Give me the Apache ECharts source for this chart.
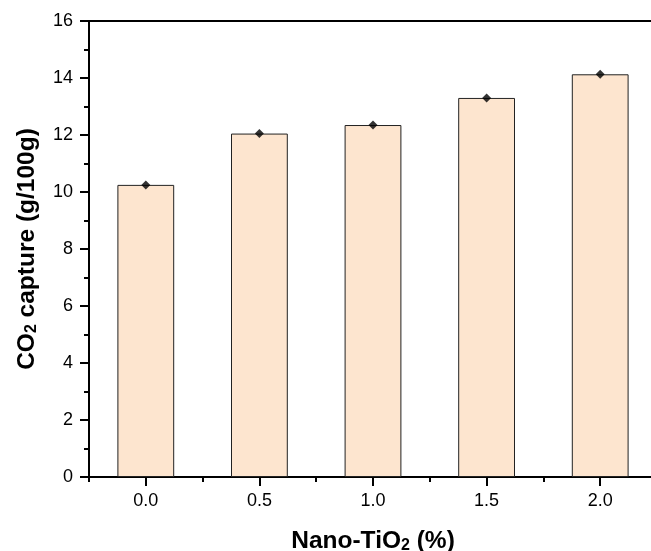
<!DOCTYPE html>
<html>
<head>
<meta charset="utf-8">
<script src="https://cdn.jsdelivr.net/npm/echarts@6/dist/echarts.min.js"></script>
<style>html,body{margin:0;padding:0;background:#fff;}#c{width:651px;height:551px;}</style>
</head>
<body>
<div id="c"></div>
<script>
const categories = ['0.0', '0.5', '1.0', '1.5', '2.0'];
const capture = [10.25, 12.05, 12.35, 13.30, 14.13];
const yTicks = { min: 0, max: 16, interval: 2 };

const chart = echarts.init(document.getElementById('c'), null, { renderer: 'canvas' });
const font = 'Liberation Sans, Arial, sans-serif';
const titleRich = {
  b: { fontSize: 24.5, fontWeight: 'bold', fontFamily: font, color: '#000' },
  s: { fontSize: 16, fontWeight: 'bold', fontFamily: font, color: '#000', verticalAlign: 'bottom', padding: [10, 0, 0, 0] }
};
chart.setOption({
  animation: false,
  backgroundColor: '#fff',
  grid: { left: 89, right: -6, top: 21, bottom: 74, containLabel: false, outerBoundsMode: 'none' },
  xAxis: [
    {
      type: 'category', data: categories, position: 'bottom',
      boundaryGap: true,
      axisLine: { show: true, lineStyle: { color: '#000', width: 2 } },
      axisTick: { show: true, alignWithLabel: true, length: 9, lineStyle: { color: '#000', width: 2 } },
      axisLabel: { color: '#000', fontSize: 18, fontFamily: font, margin: 15 },
      splitLine: { show: false },
      name: '{b|Nano-TiO}{s|2}{b| (%)}',
      nameLocation: 'middle', nameGap: 51,
      nameTextStyle: { rich: titleRich }
    },
    {
      type: 'category', data: categories, position: 'bottom',
      boundaryGap: true,
      axisLine: { show: false },
      axisTick: { show: true, alignWithLabel: false, length: 5, lineStyle: { color: '#000', width: 2 } },
      axisLabel: { show: false },
      splitLine: { show: false }
    },
    {
      type: 'category', data: categories, position: 'top',
      axisLine: { show: true, lineStyle: { color: '#000', width: 2 } },
      axisTick: { show: false },
      axisLabel: { show: false },
      splitLine: { show: false }
    }
  ],
  yAxis: {
    type: 'value', min: yTicks.min, max: yTicks.max, interval: yTicks.interval,
    axisLine: { show: true, lineStyle: { color: '#000', width: 2 } },
    axisTick: { show: true, length: 9, lineStyle: { color: '#000', width: 2 } },
    minorTick: { show: true, splitNumber: 2, length: 5, lineStyle: { color: '#000', width: 2 } },
    axisLabel: { color: '#000', fontSize: 18, fontFamily: font, margin: 16 },
    splitLine: { show: false },
    name: '{b|CO}{s|2}{b| capture (g/100g)}',
    nameLocation: 'middle', nameGap: 49, nameRotate: 90,
    nameTextStyle: { rich: titleRich }
  },
  series: [
    {
      type: 'bar', data: capture, xAxisIndex: 0, barWidth: '50%',
      itemStyle: { color: '#FDE5CF', borderColor: '#222', borderWidth: 1 }
    },
    {
      type: 'scatter', data: capture, xAxisIndex: 0, symbol: 'diamond', symbolSize: 9,
      itemStyle: { color: '#000' }, z: 5
    }
  ]
});
</script>
</body>
</html>
